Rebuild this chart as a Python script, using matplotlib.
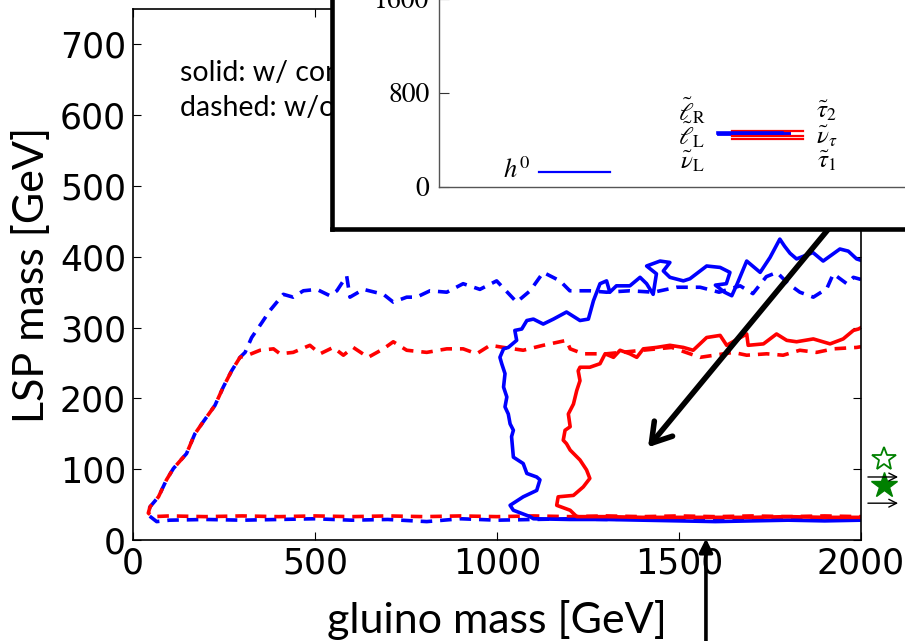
import matplotlib
matplotlib.use("Agg")
import matplotlib.pyplot as plt

plt.rcParams['mathtext.fontset'] = 'stix'

# ---------------- data ----------------
bd_x = [2000, 1900, 1800, 1700, 1600, 1500, 1400, 1300, 1200, 1100, 1000, 900, 807, 700, 600, 500, 400, 300, 200, 100, 65, 45,
        42, 47, 70, 92, 111, 147, 170, 193, 225, 248, 271, 294, 308, 326, 354, 376, 413, 440, 468, 505, 541, 560, 587, 596,
        633, 688, 715, 752, 779, 816, 862, 907, 953, 999, 1054, 1091, 1127, 1173, 1200, 1255, 1301, 1365, 1430, 1494, 1558,
        1610, 1668, 1703, 1740, 1769, 1800, 1832, 1869, 1906, 1924, 1961, 1979, 2000]
bd_y = [30, 29, 30, 29, 28, 29, 30, 29, 30, 29, 28, 30, 26, 29, 28, 30, 29, 28, 29, 28, 26, 34,
        40, 47, 61, 85, 101, 122, 150, 167, 190, 216, 239, 258, 265, 286, 307, 324, 347, 343, 352, 354, 345, 352, 373, 343,
        354, 347, 336, 343, 343, 352, 350, 362, 354, 366, 336, 352, 378, 366, 352, 352, 350, 352, 350, 357, 357,
        350, 359, 348, 372, 378, 362, 350, 343, 355, 376, 362, 371, 368]

rd_x = [2000, 1900, 1800, 1700, 1600, 1500, 1400, 1300, 1200, 1100, 1000, 900, 800, 700, 600, 500, 400, 300, 200, 100, 55,
        42, 47, 70, 92, 111, 147, 170, 193, 225, 248, 271, 294, 320, 349, 386, 404, 440, 486, 514, 550, 578, 605, 646, 688,
        715, 752, 807, 862, 907, 944, 981, 1018, 1072, 1127, 1191, 1201, 1237, 1301, 1400, 1480, 1558, 1649, 1686, 1741,
        1786, 1832, 1878, 1924, 1988, 2000]
rd_y = [33, 34, 33, 34, 33, 34, 33, 34, 33, 34, 33, 34, 33, 34, 33, 34, 33, 34, 33, 34, 33,
        38, 47, 61, 85, 101, 122, 150, 167, 190, 216, 239, 258, 262, 268, 270, 263, 265, 275, 263, 272, 261, 272, 258, 270,
        280, 268, 265, 270, 270, 263, 275, 272, 268, 275, 282, 270, 263, 263, 268, 272, 258, 265, 261, 263,
        261, 268, 265, 270, 272, 273]

bs_x = [2000, 1900, 1800, 1700, 1600, 1500, 1400, 1300, 1200, 1100, 1091, 1045, 1036, 1072, 1109, 1118, 1109, 1082, 1072,
        1045, 1040, 1045, 1036, 1031, 1022, 1027, 1018, 1022, 1013, 1008, 1018, 1031, 1054, 1049, 1068, 1082, 1100, 1127,
        1155, 1191, 1228, 1251, 1265, 1283, 1301, 1310, 1328, 1365, 1393, 1411, 1429, 1438, 1411, 1448, 1475, 1457, 1475,
        1512, 1530, 1576, 1613, 1640, 1630, 1600, 1625, 1645, 1660, 1686, 1723, 1750, 1777, 1790, 1805, 1823, 1868, 1896,
        1942, 1965, 1988, 2000]
bs_y = [28, 27, 28, 27, 26, 27, 28, 29, 29, 30, 33, 42, 49, 61, 70, 85, 89, 94, 108,
        117, 146, 155, 164, 178, 188, 202, 216, 235, 249, 258, 270, 272, 282, 296, 298, 310, 312, 305,
        312, 322, 310, 312, 338, 362, 366, 350, 359, 359, 371, 362, 347, 376, 387, 394, 392, 380, 371,
        366, 369, 387, 385, 378, 362, 360, 350, 345, 362, 394, 378, 399, 425, 415, 405, 397, 406, 394,
        411, 408, 397, 395]

rs_x = [2000, 1900, 1800, 1700, 1600, 1500, 1400, 1300, 1219, 1201, 1164, 1168, 1210, 1237, 1255, 1246, 1228, 1201, 1191,
        1182, 1187, 1201, 1196, 1210, 1219, 1228, 1223, 1228, 1255, 1283, 1297, 1320, 1338, 1365, 1384, 1402, 1438, 1475,
        1512, 1539, 1576, 1613, 1631, 1686, 1690, 1732, 1768, 1796, 1823, 1869, 1915, 1951, 1979, 1993, 2000]
rs_y = [32, 32, 33, 32, 32, 32, 32, 33, 33, 42, 49, 61, 63, 75, 87, 99, 113, 127, 136,
        141, 155, 160, 178, 192, 211, 225, 239, 244, 244, 249, 263, 258, 268, 263, 258, 270, 272, 275,
        272, 268, 286, 289, 275, 291, 275, 277, 291, 282, 280, 284, 277, 284, 296, 298, 300]

# benchmark markers on the right edge
star_open = (2063, 115)
star_filled = (2063, 77)
small_arrow_y = [89, 52]
small_arrow_x = (2019, 2102)

# spectrum inset (GeV)
h0_mass = 125
slepton_masses = [460, 454, 448]      # l_R, l_L, nu_L
stau_masses = [477, 429, 406]         # tau2, nu_tau, tau1
inset_yticks = [0, 800, 1600]

xticks = [0, 500, 1000, 1500, 2000]
yticks = [0, 100, 200, 300, 400, 500, 600, 700]

W, H = 905, 641
fig = plt.figure(figsize=(W / 100, H / 100), dpi=100)

ax = fig.add_axes([133 / W, (H - 540) / H, (861 - 133) / W, (540 - 9) / H])
LW = 2.6
ax.plot(bd_x, bd_y, color='blue', ls=(0, (3.2, 2.2)), lw=LW)
ax.plot(rd_x, rd_y, color='red', ls=(2.7, (3.2, 2.2)), lw=LW)
ax.plot(bs_x, bs_y, color='blue', ls='-', lw=LW)
ax.plot(rs_x, rs_y, color='red', ls='-', lw=LW)
ax.set_xlim(0, 2000)
ax.set_ylim(0, 750)
ax.set_xticks(xticks)
ax.set_yticks(yticks)
ax.tick_params(direction='in', length=6, top=True, right=True, labelsize=25, pad=5, width=0.8)
for s in ax.spines.values():
    s.set_linewidth(1.2)
ax.set_xlabel('gluino mass [GeV]', family='Lato', fontsize=31, labelpad=14)
ax.set_ylabel('LSP mass [GeV]', family='Lato', fontsize=31, labelpad=6)

ax.text(129, 659, 'solid: w/ constraint', family='Lato', fontsize=20.5, va='center', ha='left')
ax.text(129, 610, 'dashed: w/o constraint', family='Lato', fontsize=20.5, va='center', ha='left')

# markers at the right edge
ax.plot(*star_open, marker='*', ms=18, mfc='none', mec='green', mew=1.3, clip_on=False)
ax.plot(*star_filled, marker='*', ms=19, color='green', clip_on=False)
for yy in small_arrow_y:
    ax.annotate('', xy=(small_arrow_x[1], yy), xytext=(small_arrow_x[0], yy),
                arrowprops=dict(arrowstyle='->', lw=1.0, color='black', mutation_scale=14,
                                shrinkA=0, shrinkB=0),
                annotation_clip=False)

# big arrow from inset
ax.annotate('', xy=(1415, 131), xytext=(1960, 470),
            arrowprops=dict(arrowstyle='->,head_length=0.4,head_width=0.25', lw=4.0, color='black',
                            mutation_scale=34, shrinkA=0, shrinkB=0),
            annotation_clip=False, zorder=4)
# vertical arrow from below
ax.annotate('', xy=(1574, 2), xytext=(1574, -200),
            arrowprops=dict(arrowstyle='-|>', lw=2.6, color='black', mutation_scale=20,
                            shrinkA=0, shrinkB=0),
            annotation_clip=False, zorder=4)

# inset frame
box = fig.add_axes([332 / W, (H - 229) / H, 0.8, 0.5], zorder=5)
box.set_facecolor('white')
box.set_xticks([])
box.set_yticks([])
for s in box.spines.values():
    s.set_linewidth(3.3)
    s.set_color('black')

# spectrum inset
ins = fig.add_axes([439 / W, (H - 186.7) / H, 561 / W, 188 / H], zorder=6)
ins.set_facecolor('none')
ins.set_xlim(-0.757, 2.377)
ins.set_ylim(0, 1600)
ins.spines['top'].set_visible(False)
ins.spines['right'].set_visible(False)
for k in ('left', 'bottom'):
    ins.spines[k].set_color('#555555')
    ins.spines[k].set_linewidth(1.0)
ins.set_xticks([])
ins.set_yticks(inset_yticks)
ins.set_yticklabels([str(v) for v in inset_yticks], family='STIXGeneral', fontsize=20)
ins.tick_params(axis='y', direction='in', length=7, pad=7, color='#333333')

hw = 0.198
ins.plot([0 - hw, 0 + hw], [h0_mass, h0_mass], color='blue', lw=1.6)
for m in slepton_masses:
    ins.plot([1 - hw, 1 + hw], [m, m], color='blue', lw=2.0)
for m in stau_masses:
    ins.plot([1 + 0.078 - hw, 1 + 0.078 + hw], [m, m], color='red', lw=1.6)
ins.plot([1 - hw, 1 + hw - 0.04], [454, 454], color='blue', lw=2.6)

tk = dict(fontsize=18, va='center')
ins.text(-0.25, h0_mass + 10, r'$h^0$', ha='right', fontsize=19, va='center')
ins.text(-0.25, 1680, r'$A^0$', ha='right', fontsize=19, va='center')
ins.text(0.656, 650, r'$\tilde{\ell}_{\rm R}$', ha='center', **tk)
ins.text(0.656, 445, r'$\tilde{\ell}_{\rm L}$', ha='center', **tk)
ins.text(0.656, 220, r'$\tilde{\nu}_{\rm L}$', ha='center', **tk)
ins.text(1.41, 650, r'$\tilde{\tau}_2$', ha='center', **tk)
ins.text(1.41, 430, r'$\tilde{\nu}_\tau$', ha='center', **tk)
ins.text(1.41, 220, r'$\tilde{\tau}_1$', ha='center', **tk)

fig.savefig('out.png', dpi=100)
